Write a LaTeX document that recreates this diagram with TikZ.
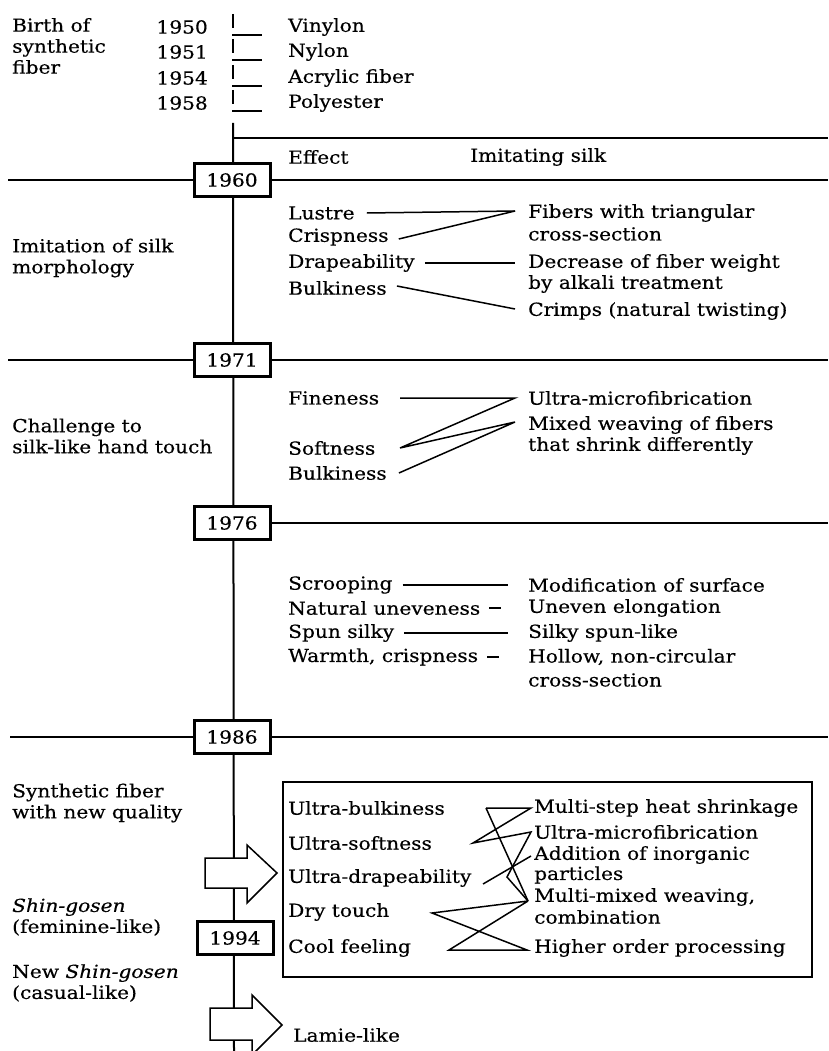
\documentclass[tikz,border=0pt]{standalone}
\usepackage{fontspec}
\setmainfont[FakeStretch=1.12,FakeBold=0.4]{DejaVu Serif}
\usetikzlibrary{calc}
\begin{document}
\begin{tikzpicture}[x=1pt,y=-1pt,
  every node/.style={font=\fontsize{18}{21}\selectfont},
  txt/.style={anchor=west,inner sep=0pt,align=left},
  rtxt/.style={anchor=east,inner sep=0pt},
  yearbox/.style={draw,line width=3pt,fill=white,minimum width=76pt,minimum height=33pt,inner sep=0pt},
  ln/.style={line width=2pt},
  tick/.style={line width=2.5pt},
  cn/.style={line width=1.5pt},
  fat/.style={draw,line width=1.5pt,fill=white,line join=miter}
]
\useasboundingbox (0,0) rectangle (828,1051);

% ---------- top: birth of synthetic fiber ----------
\node[txt] (birth) at (12,46) {Birth of\\synthetic\\fiber};
\foreach \yr/\lab/\yy [count=\i] in {1950/Vinylon/27,1951/Nylon/52,1954/Acrylic fiber/78,1958/Polyester/103}{
  \node[rtxt] (y\i) at (208,\yy) {\yr};
  \node[txt] (f\i) at (288,\yy) {\lab};
  \draw[tick] (233,\yy-13) -- (233,\yy+1);
  \draw[ln] (232,\yy+8) -- (262,\yy+8);
}

% ---------- main vertical line ----------
\coordinate (vtop) at (233,123);
\coordinate (vbot) at (234,1051);
\draw[ln] (vtop) -- (vbot);

% ---------- header ----------
\coordinate (hl) at (233,138);
\coordinate (hr) at (828,138);
\draw[ln] (hl) -- (hr);
\node[txt] (effect) at (288,157) {Effect};
\node[txt] (imit) at (470,157) {Imitating silk};

% ---------- year boxes and separators ----------
\node[yearbox] (b1960) at (232,180) {1960};
\node[yearbox] (b1971) at (232,360) {1971};
\node[yearbox] (b1976) at (232,523) {1976};
\node[yearbox] (b1986) at (232,737) {1986};
\coordinate (l1960) at (8,180);  \coordinate (r1960) at (828,180);
\coordinate (l1971) at (8,360);  \coordinate (r1971) at (828,360);
\coordinate (r1976) at (828,523);
\coordinate (l1986) at (10,737); \coordinate (r1986) at (828,737);
\draw[ln] (l1960) -- (b1960.west) (b1960.east) -- (r1960);
\draw[ln] (l1971) -- (b1971.west) (b1971.east) -- (r1971);
\draw[ln] (b1976.east) -- (r1976);
\draw[ln] (l1986) -- (b1986.west) (b1986.east) -- (r1986);

% ---------- 1960 section ----------
\node[txt] (sec1) at (12,258) {Imitation of silk\\morphology};
\node[txt] (lustre) at (288,213) {Lustre};
\node[txt] (crisp) at (288,237) {Crispness};
\node[txt] (drape) at (288,263) {Drapeability};
\node[txt] (bulk) at (288,288) {Bulkiness};
\node[txt] (fib) at (528,213) {Fibers with triangular};
\node[txt] (fib2) at (528,234) {cross-section};
\node[txt] (dec) at (528,263) {Decrease of fiber weight};
\node[txt] (dec2) at (528,284) {by alkali treatment};
\node[txt] (crimp) at (528,311) {Crimps (natural twisting)};
\coordinate (pa) at ($(fib.west)+(-13,-2)$);
\draw[cn] ($(lustre.east)+(12,0)$) -- (pa);
\draw[cn] ($(crisp.east)+(10,2)$) -- (pa);
\draw[cn] ($(drape.east)+(10,0)$) -- ($(dec.west)+(-13,0)$);
\draw[cn] ($(bulk.east)+(10,-2)$) -- ($(crimp.west)+(-13,-2)$);

% ---------- 1971 section ----------
\node[txt] (sec2) at (12,436) {Challenge to\\silk-like hand touch};
\node[txt] (fine) at (288,398) {Fineness};
\node[txt] (soft) at (288,448) {Softness};
\node[txt] (bulkb) at (288,473) {Bulkiness};
\node[txt] (umf) at (528,398) {Ultra-microfibrication};
\node[txt] (mix) at (528,425) {Mixed weaving of fibers};
\node[txt] (mix2) at (528,446) {that shrink differently};
\coordinate (pb) at ($(umf.west)+(-13,0)$);
\coordinate (pc) at ($(mix.west)+(-13,-3)$);
\coordinate (ps) at (400,448);
\draw[cn] (fine.east -| ps) -- (pb) -- (ps) -- (pc) -- ($(bulkb.east)+(12,0)$);

% ---------- 1976 section ----------
\node[txt] (scr) at (288,585) {Scrooping};
\node[txt] (nat) at (288,608) {Natural uneveness};
\node[txt] (spun) at (288,633) {Spun silky};
\node[txt] (warm) at (288,657) {Warmth, crispness};
\node[txt] (mod) at (528,585) {Modification of surface};
\node[txt] (unev) at (528,608) {Uneven elongation};
\node[txt] (silky) at (528,633) {Silky spun-like};
\node[txt] (hol) at (528,657) {Hollow, non-circular};
\node[txt] (hol2) at (528,680) {cross-section};
\draw[cn] ($(scr.east)+(10,0)$) -- ($(mod.west)+(-20,0)$);
\draw[cn] ($(nat.east)+(9,0)$) -- ($(nat.east)+(21,0)$);
\draw[cn] ($(spun.east)+(10,0)$) -- ($(silky.west)+(-20,0)$);
\draw[cn] ($(warm.east)+(9,0)$) -- ($(warm.east)+(21,0)$);

% ---------- 1986 section ----------
\node[txt] (sec3) at (12,803) {Synthetic fiber\\with new quality};
\node[draw,line width=2pt,minimum width=529pt,minimum height=195pt,inner sep=0pt] (bigbox) at (547.5,879.5) {};
\node[txt] (ub) at (288,808) {Ultra-bulkiness};
\node[txt] (us) at (288,843) {Ultra-softness};
\node[txt] (ud) at (288,878) {Ultra-drapeability};
\node[txt] (dt) at (288,912) {Dry touch};
\node[txt] (cf) at (288,948) {Cool feeling};
\node[txt] (ms) at (534,808) {Multi-step heat shrinkage};
\node[txt] (um) at (534,832) {Ultra-microfibrication};
\node[txt] (ad) at (534,855) {Addition of inorganic};
\node[txt] (ad2) at (534,875) {particles};
\node[txt] (mm) at (534,897) {Multi-mixed weaving,};
\node[txt] (mm2) at (534,917) {combination};
\node[txt] (ho) at (534,948) {Higher order processing};
\coordinate (qub) at (486,808);
\coordinate (qus) at (473,843);
\coordinate (qud) at (483,884);
\coordinate (qdt) at (432,913);
\coordinate (qcf) at (449,950);
\coordinate (qms) at ($(ms.west)+(-3,0)$);
\coordinate (qum) at ($(um.west)+(-3,0)$);
\coordinate (qad) at ($(ad.west)+(-3,1)$);
\coordinate (qmm) at ($(mm.west)+(-6,4)$);
\coordinate (qho) at ($(ho.west)+(-7,2)$);
\coordinate (qv) at (507,877);
\draw[cn] (qub) -- (qms) -- (qus) -- (qum) -- (qv) -- (qmm);
\draw[cn] (qub) -- (qmm);
\draw[cn] (qud) -- (qad);
\draw[cn] (qmm) -- (qdt) -- (qho) -- (qcf) -- (qmm);

% ---------- arrows, 1994 ----------
\draw[fat] (205,858) -- (247,858) -- (247,845) -- (277,873) -- (247,903) -- (247,888) -- (205,888) -- cycle;
\node[txt] (shin) at (12,917) {\textit{Shin-gosen}\\(feminine-like)};
\node[yearbox] (b1994) at (235,938) {1994};
\node[txt] (nshin) at (12,983) {New \textit{Shin-gosen}\\(casual-like)};
\draw[fat] (210,1008) -- (252,1008) -- (252,995) -- (282,1025) -- (252,1055) -- (252,1040) -- (210,1040) -- cycle;
\node[txt] (lamie) at (293,1035) {Lamie-like};
\end{tikzpicture}
\end{document}
